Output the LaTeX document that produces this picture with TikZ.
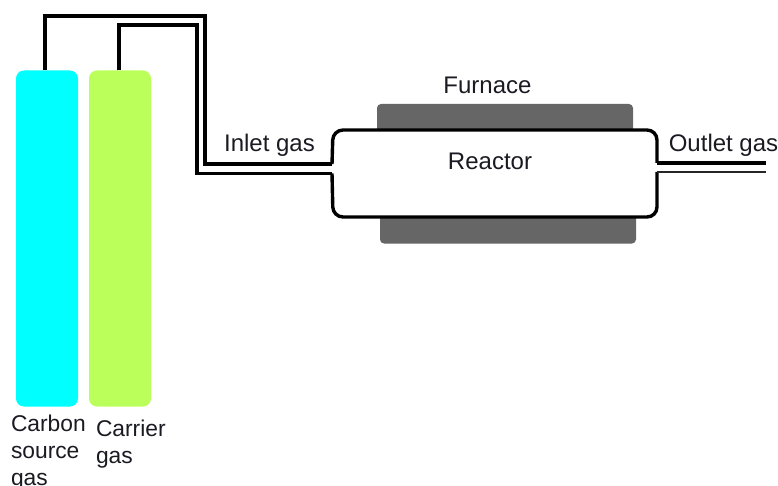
\documentclass[tikz,border=0pt]{standalone}
\usepackage{fontspec}
\setmainfont{Liberation Sans}
\definecolor{furn}{HTML}{666666}
\definecolor{txt}{HTML}{1A1A22}
\definecolor{cyl1}{HTML}{00FFFF}
\definecolor{cyl2}{HTML}{BBFF5A}
\tikzset{
  cylbox/.style={rectangle,rounded corners=8pt,minimum width=62pt,minimum height=336pt,inner sep=0pt,outer sep=0pt},
  furnbox/.style={rectangle,rounded corners=4pt,fill=furn,minimum width=256pt,minimum height=30pt,inner sep=0pt,outer sep=0pt},
  label/.style={inner sep=0pt,outer sep=0pt,text=txt,font=\fontsize{24}{27}\selectfont,align=left},
  lowlabel/.style={label,font=\fontsize{22.8}{27}\selectfont},
  pipe/.style={draw=black,line width=3.6pt,line join=miter},
  thinpipe/.style={draw=black!85,line width=2.8pt},
  wall/.style={draw=black,line width=3.4pt,rounded corners=10pt}
}
\begin{document}
\begin{tikzpicture}[x=1pt,y=-1pt]
\useasboundingbox (0,0) rectangle (778,486);
% cylinders
\node[cylbox,fill=cyl1] (carbon) at (47,238.5) {};
\node[cylbox,fill=cyl2] (carrier) at (120,238.5) {};
% furnaces
\node[furnbox] (furntop) at (505,119) {};
\node[furnbox] (furnbot) at (508,228.5) {};
% reactor body
\coordinate (inU) at (332,164);
\coordinate (inL) at (332,173.5);
\coordinate (outU) at (657,163);
\coordinate (outL) at (657,172);
\coordinate (outUend) at (766,163);
\coordinate (outLend) at (766,172);
\fill[white,rounded corners=10pt] (333,130) rectangle (657,217);
\path[wall] (inU) -- (333,130) -- (657,130) -- (outU);
\path[wall] (inL) -- (333,217) -- (657,217) -- (outL);
% pipes
\path[pipe] ([xshift=-2pt]carbon.north) -- (45,16) -- (205,16) -- (205,164) -- (inU);
\path[pipe] ([xshift=-1pt]carrier.north) -- (119,25) -- (197,25) -- (197,173.5) -- (inL);
\path[pipe] (outU) -- (outUend);
\path[thinpipe] (outL) -- (outLend);
% labels
\node[label] (lfurn) at (487.5,85.3) {Furnace};
\node[label] (lreac) at (490,161.3) {Reactor};
\node[label] (linlet) at (269.5,145) {Inlet gas};
\node[label] (loutlet) at (723.5,145) {Outlet gas};
\node[lowlabel,anchor=north west] (lcarbon) at (11,414.5) {Carbon\\source\\gas};
\node[lowlabel,anchor=north west] (lcarrier) at (96,420) {Carrier\\gas};
\end{tikzpicture}
\end{document}
